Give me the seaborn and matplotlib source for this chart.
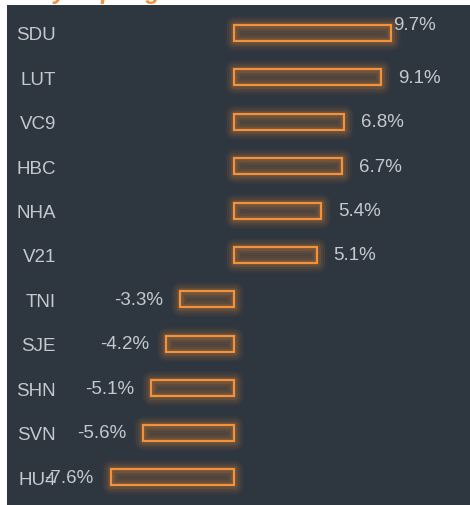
import matplotlib

matplotlib.use("Agg")
import matplotlib.pyplot as plt
import pandas as pd
import seaborn as sns

tickers = ["SDU", "LUT", "VC9", "HBC", "NHA", "V21", "TNI", "SJE", "SHN", "SVN", "HU4"]
changes = [9.7, 9.1, 6.8, 6.7, 5.4, 5.1, -3.3, -4.2, -5.1, -5.6, -7.6]
value_labels = [f"{v:.1f}%" for v in changes]
title_text = "Daily Top Big Movers"

BG = "#2e3640"
ORANGE = "#f5913a"
TEXT = "#c5c9ce"
PX = 72 / 100  # points per pixel at dpi 100

df = pd.DataFrame({"ticker": tickers, "change": changes})

sns.set_theme(style="dark")
plt.rcParams["font.family"] = ["Liberation Sans", "DejaVu Sans"]

fig = plt.figure(figsize=(4.7, 5.06), dpi=100, facecolor="white")
ax = fig.add_axes([7 / 470, 0, 463 / 470, 500 / 506])
ax.set_facecolor(BG)

# soft glow layers, then the outlined bar on top
layers = [(14, 0.04), (11, 0.06), (8, 0.08), (5, 0.12)]
for lw, a in layers:
    sns.barplot(data=df, x="change", y="ticker", order=tickers, orient="h",
                width=0.36, ax=ax)
    for p in ax.containers[-1]:
        p.set_facecolor("none")
        p.set_edgecolor(ORANGE)
        p.set_alpha(a)
        p.set_linewidth(lw)
        p.set_joinstyle("round")

sns.barplot(data=df, x="change", y="ticker", order=tickers, orient="h",
            width=0.36, ax=ax)
for p in ax.containers[-1]:
    p.set_facecolor((0.96, 0.57, 0.23, 0.10))
    p.set_edgecolor(ORANGE)
    p.set_linewidth(1.6)

# value labels
for i, (v, lab) in enumerate(zip(changes, value_labels)):
    if i == 0:
        off, va_shift = 2 * PX, 8 * PX
    else:
        off, va_shift = 17 * PX, 0
    ax.annotate(lab, xy=(v, i), xytext=(off if v > 0 else -off, va_shift),
                textcoords="offset points", ha="left" if v > 0 else "right",
                va="center", color=TEXT, fontsize=13.5)

ax.set_xlim(-14.0, 14.57)
ax.set_ylim(10.63, -0.63)
ax.set_xlabel("")
ax.set_ylabel("")
ax.set_xticks([])
ax.tick_params(axis="y", length=0, pad=-49 * PX, labelsize=13.5, labelcolor=TEXT)
for s in ax.spines.values():
    s.set_visible(False)
ax.grid(False)

# title sits above the top edge, only its descenders show
fig.text(10 / 470, 1 + 1 / 506, title_text, color=ORANGE, fontsize=17,
         fontweight="bold", fontstyle="italic", ha="left", va="baseline")

fig.savefig("out.png", dpi=100, facecolor="white")
